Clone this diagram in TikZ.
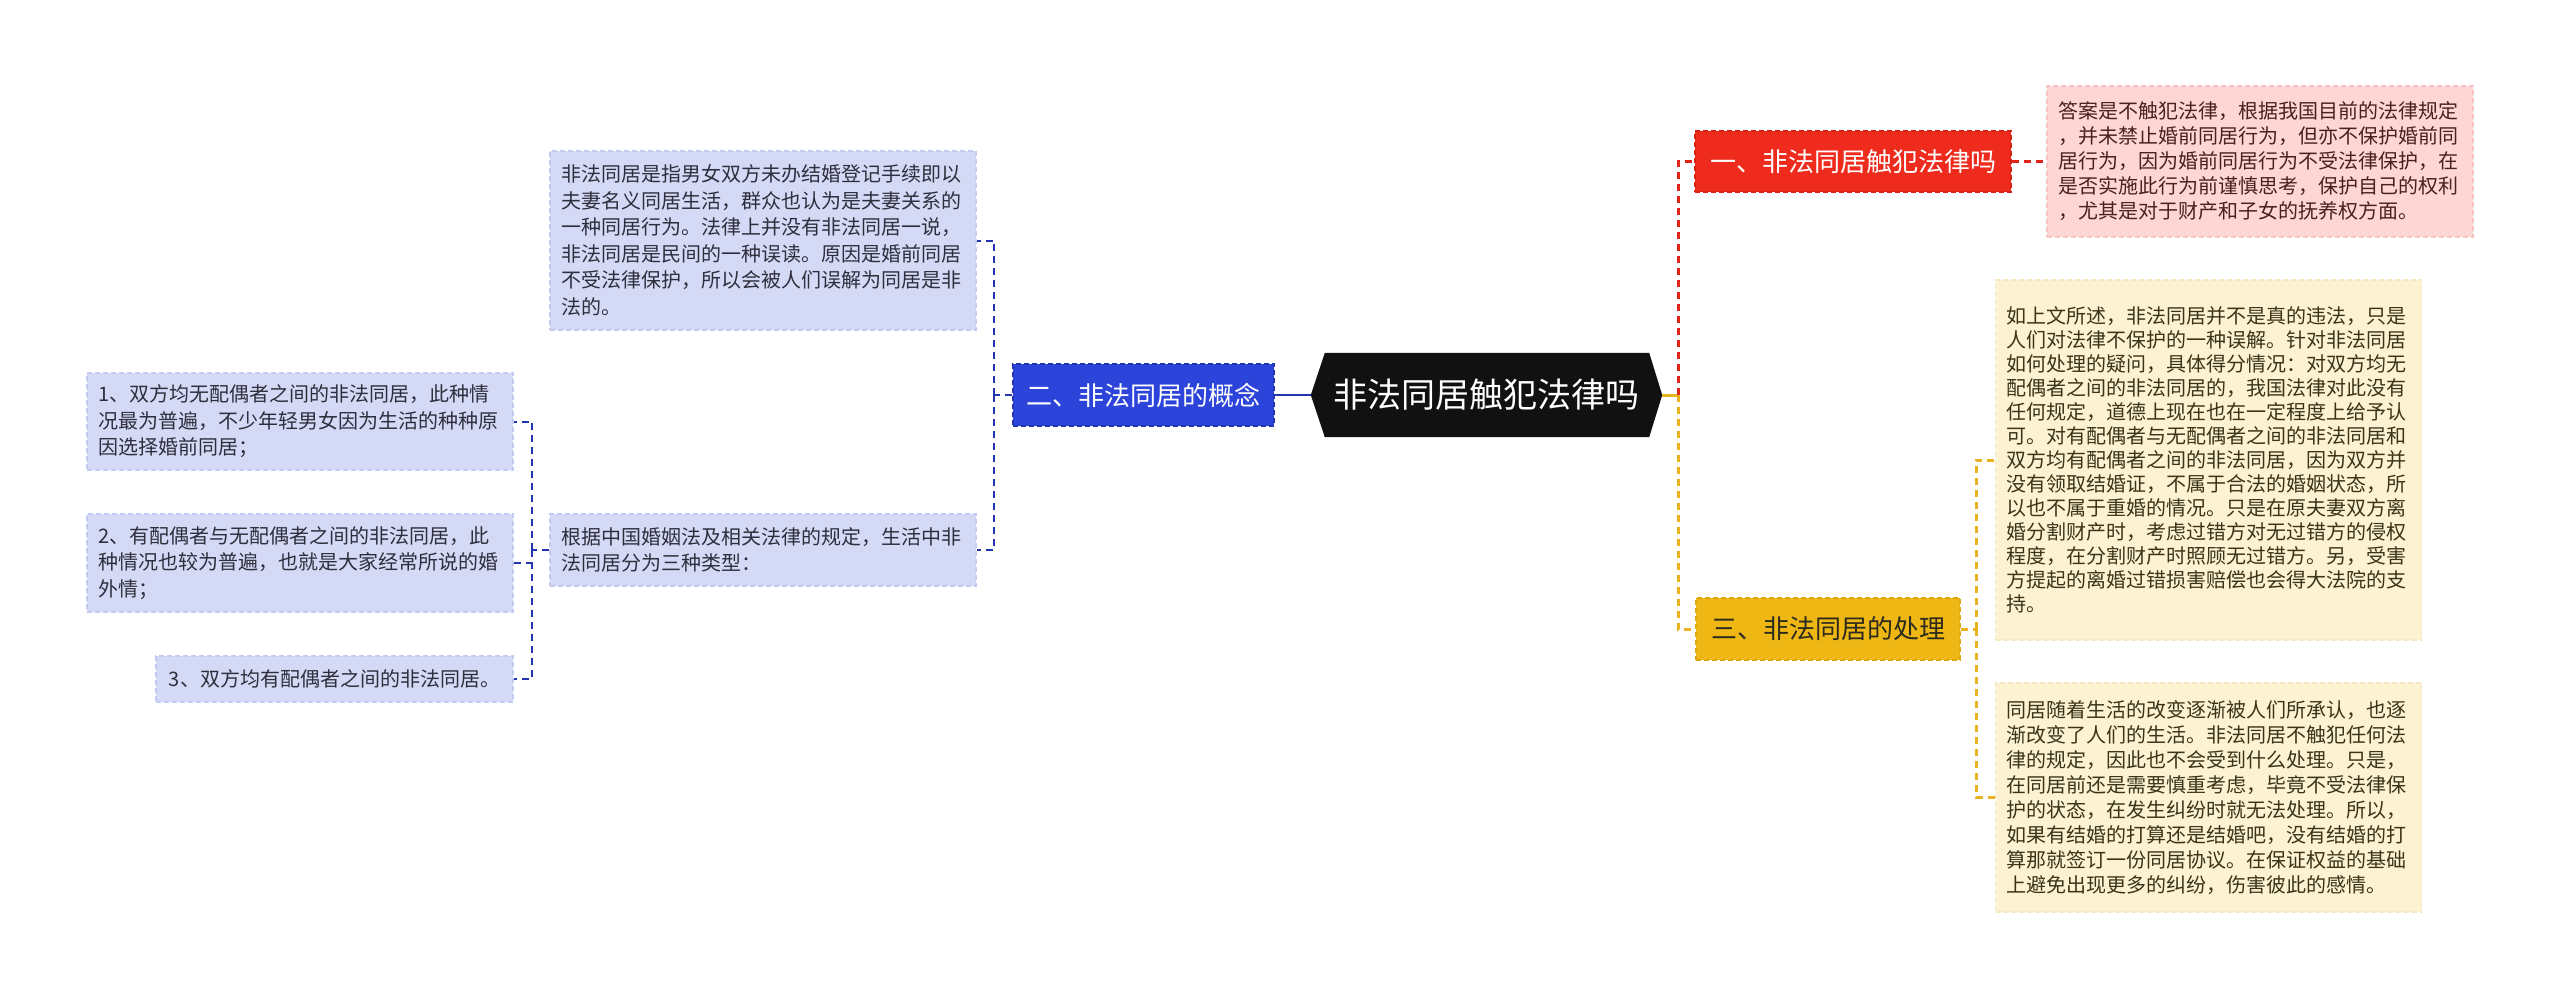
\documentclass[tikz,border=0pt]{standalone}
\usepackage{fontspec}
\setmainfont{Noto Sans CJK SC}
\usetikzlibrary{backgrounds}
\definecolor{rootc}{HTML}{111111}
\definecolor{bluefill}{HTML}{2C44D9}
\definecolor{blueedge}{HTML}{2035B8}
\definecolor{lavfill}{HTML}{D4D9F6}
\definecolor{lavedge}{HTML}{C3CAF1}
\definecolor{lavtext}{HTML}{2E2E3C}
\definecolor{blueline}{HTML}{2335B0}
\definecolor{redfill}{HTML}{EE2B1C}
\definecolor{rededge}{HTML}{D42216}
\definecolor{redline}{HTML}{E0231B}
\definecolor{pinkfill}{HTML}{FCD7D5}
\definecolor{pinkedge}{HTML}{F6C4C1}
\definecolor{pinktext}{HTML}{4A2020}
\definecolor{yelfill}{HTML}{EEB714}
\definecolor{yeledge}{HTML}{DCA70C}
\definecolor{yeltext}{HTML}{2D2A1E}
\definecolor{yelline}{HTML}{E9B320}
\definecolor{creamfill}{HTML}{FDF3D3}
\definecolor{creamedge}{HTML}{F5E8C0}
\definecolor{creamtext}{HTML}{3A3418}
\begin{document}
\begin{tikzpicture}[x=1pt,y=-1pt,
  rootn/.style={text=white,font=\fontsize{34pt}{40pt}\selectfont,minimum width=351pt,minimum height=84pt,inner sep=0pt},
  topbox/.style={font=\fontsize{26pt}{30pt}\selectfont,line width=1.5pt,dash pattern=on 5pt off 3pt,inner sep=0pt,minimum height=62pt},
  bluebox/.style={topbox,fill=bluefill,draw=blueedge,text=white},
  redbox/.style={topbox,fill=redfill,draw=rededge,text=white},
  yelbox/.style={topbox,fill=yelfill,draw=yeledge,text=yeltext},
  txtbox/.style={line width=1.2pt,dash pattern=on 5pt off 3pt,align=left,text width=404pt,inner xsep=11pt,inner ysep=3pt},
  lavbox/.style={txtbox,fill=lavfill,draw=lavedge,text=lavtext,font=\fontsize{20pt}{26.5pt}\selectfont},
  pinkbox/.style={txtbox,fill=pinkfill,draw=pinkedge,text=pinktext,font=\fontsize{20pt}{25pt}\selectfont},
  creambox/.style={txtbox,fill=creamfill,draw=creamedge,text=creamtext,font=\fontsize{20pt}{24pt}\selectfont},
  bline/.style={draw=blueline,line width=2.6pt},
  bdash/.style={draw=blueline,line width=2pt,dash pattern=on 7pt off 5pt},
  rdash/.style={draw=redline,line width=3pt,dash pattern=on 7pt off 5pt},
  yline/.style={draw=yelline,line width=3pt},
  ydash/.style={draw=yelline,line width=3pt,dash pattern=on 7pt off 5pt}
]
\useasboundingbox (0,0) rectangle (2560,999);
\begin{scope}[on background layer]
\fill[white] (0,0) rectangle (2560,999);
\end{scope}

% root
\node[rootn] (root) at (1486.5,395) {非法同居触犯法律吗};
\begin{scope}[on background layer]
\fill[rootc] (root.west) -- ([xshift=14pt]root.north west) -- ([xshift=-13pt]root.north east) -- (root.east) -- ([xshift=-13pt]root.south east) -- ([xshift=14pt]root.south west) -- cycle;
\end{scope}

% first level
\node[bluebox,minimum width=261pt] (b2) at (1143.5,395) {二、非法同居的概念};
\node[redbox,minimum width=316pt,minimum height=61pt] (b1) at (1853,161.5) {一、非法同居触犯法律吗};
\node[yelbox,minimum width=264pt] (b3) at (1828,629) {三、非法同居的处理};

% left side
\node[lavbox,minimum height=179pt] (c1) at (763,240.5) {非法同居是指男女双方未办结婚登记手续即以\\夫妻名义同居生活，群众也认为是夫妻关系的\\一种同居行为。法律上并没有非法同居一说，\\非法同居是民间的一种误读。原因是婚前同居\\不受法律保护，所以会被人们误解为同居是非\\法的。};
\node[lavbox,minimum height=72pt] (c2) at (763,550) {根据中国婚姻法及相关法律的规定，生活中非\\法同居分为三种类型：};
\node[lavbox,minimum height=97pt] (t1) at (300,421.5) {1、双方均无配偶者之间的非法同居，此种情\\况最为普遍，不少年轻男女因为生活的种种原\\因选择婚前同居；};
\node[lavbox,minimum height=98pt] (t2) at (300,563) {2、有配偶者与无配偶者之间的非法同居，此\\种情况也较为普遍，也就是大家经常所说的婚\\外情；};
\node[lavbox,text width=,align=center,minimum width=357pt,minimum height=46pt] (t3) at (334.5,679) {3、双方均有配偶者之间的非法同居。};

% right side
\node[pinkbox,minimum height=151pt] (p1) at (2260,161.5) {答案是不触犯法律，根据我国目前的法律规定\\，并未禁止婚前同居行为，但亦不保护婚前同\\居行为，因为婚前同居行为不受法律保护，在\\是否实施此行为前谨慎思考，保护自己的权利\\，尤其是对于财产和子女的抚养权方面。};
\node[creambox,minimum height=360pt] (y1) at (2208.5,460) {如上文所述，非法同居并不是真的违法，只是\\人们对法律不保护的一种误解。针对非法同居\\如何处理的疑问，具体得分情况：对双方均无\\配偶者之间的非法同居的，我国法律对此没有\\任何规定，道德上现在也在一定程度上给予认\\可。对有配偶者与无配偶者之间的非法同居和\\双方均有配偶者之间的非法同居，因为双方并\\没有领取结婚证，不属于合法的婚姻状态，所\\以也不属于重婚的情况。只是在原夫妻双方离\\婚分割财产时，考虑过错方对无过错方的侵权\\程度，在分割财产时照顾无过错方。另，受害\\方提起的离婚过错损害赔偿也会得大法院的支\\持。};
\node[creambox,font=\fontsize{20pt}{25pt}\selectfont,minimum height=229pt] (y2) at (2208.5,797.5) {同居随着生活的改变逐渐被人们所承认，也逐\\渐改变了人们的生活。非法同居不触犯任何法\\律的规定，因此也不会受到什么处理。只是，\\在同居前还是需要慎重考虑，毕竟不受法律保\\护的状态，在发生纠纷时就无法处理。所以，\\如果有结婚的打算还是结婚吧，没有结婚的打\\算那就签订一份同居协议。在保证权益的基础\\上避免出现更多的纠纷，伤害彼此的感情。};

% junctions
\coordinate (jb) at (994,395);
\coordinate (jt) at (532,550);
\coordinate (jr) at (1678,395);
\coordinate (jy) at (1976,629);

% connectors left
\draw[bline] (root.west) -- (b2.east);
\draw[bdash] (b2.west) -- (jb);
\draw[bdash] (jb) |- (c1.east);
\draw[bdash] (jb) |- (c2.east);
\draw[bdash] (c2.west) -- (jt);
\draw[bdash] (jt) |- (t1.east);
\draw[bdash] (jt) |- (t2.east);
\draw[bdash] (jt) |- (t3.east);

% connectors right
\draw[yline] (root.east) -- (jr);
\draw[rdash] (jr) |- (b1.west);
\draw[ydash] (jr) |- (b3.west);
\draw[rdash] (b1.east) -- (p1.west);
\draw[ydash] (b3.east) -- (jy);
\draw[ydash] (jy) |- (y1.west);
\draw[ydash] (jy) |- (y2.west);
\end{tikzpicture}
\end{document}
